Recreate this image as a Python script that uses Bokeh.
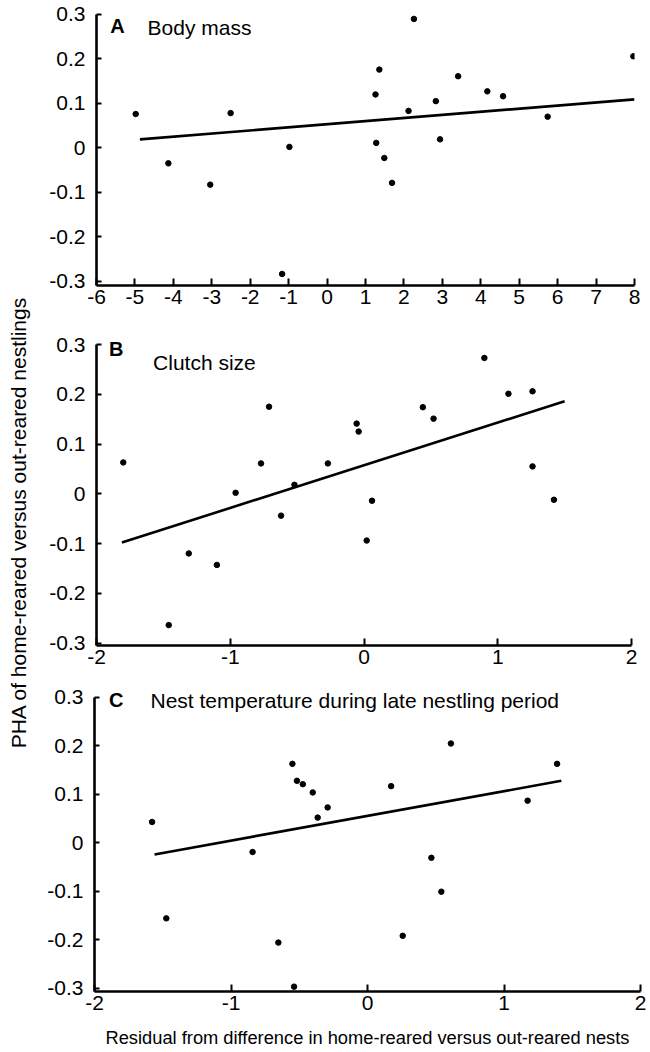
import math
from bokeh.plotting import figure
from bokeh.models import Range1d, FixedTicker, Label
from bokeh.layouts import row, column
from bokeh.embed import file_html
from bokeh.resources import INLINE

FONT = "Liberation Sans"

# ---------------- data ----------------
# Panel A: Body mass
xa = [-4.98, -4.13, -2.51, -0.98, 1.26, 1.36, 1.28, 1.49, 2.26, 2.12,
      2.83, 2.94, 3.41, 4.17, 4.58, 5.74, 7.97, -3.04, 1.69, -1.17]
ya = [0.076, -0.035, 0.078, 0.002, 0.120, 0.176, 0.011, -0.023, 0.290, 0.083,
      0.105, 0.019, 0.161, 0.127, 0.116, 0.070, 0.206, -0.083, -0.079, -0.284]
fit_a_x = [-4.87, 8.0]
fit_a_y = [0.019, 0.109]

# Panel B: Clutch size
xb = [-1.80, -0.96, -0.77, -0.71, -0.52, -0.27, -0.055, -0.04, 0.06, 0.44,
      0.52, 0.90, 1.08, 1.26, 1.26, 1.42, -0.62, 0.02, -1.31, -1.10, -1.46]
yb = [0.063, 0.002, 0.061, 0.175, 0.018, 0.061, 0.141, 0.125, -0.014, 0.174,
      0.151, 0.273, 0.201, 0.206, 0.055, -0.012, -0.044, -0.094, -0.120, -0.143, -0.264]
fit_b_x = [-1.81, 1.50]
fit_b_y = [-0.098, 0.186]

# Panel C: Nest temperature during late nestling period
xc = [-1.578, -0.550, -0.517, -0.474, -0.401, -0.365, -0.292, 0.173, 0.611, 1.173,
      1.389, -0.842, 0.468, 0.541, -1.474, -0.653, 0.258, -0.538]
yc = [0.043, 0.163, 0.128, 0.121, 0.104, 0.052, 0.073, 0.117, 0.205, 0.087,
      0.163, -0.019, -0.031, -0.101, -0.156, -0.206, -0.192, -0.297]
fit_c_x = [-1.56, 1.42]
fit_c_y = [-0.024, 0.128]

y_ticks = [-0.3, -0.2, -0.1, 0, 0.1, 0.2, 0.3]
y_tick_labels = ["-0.3", "-0.2", "-0.1", "0", "0.1", "0.2", "0.3"]
xa_ticks = [-6, -5, -4, -3, -2, -1, 0, 1, 2, 3, 4, 5, 6, 7, 8]
xa_tick_labels = ["-6", "-5", "-4", "-3", "-2", "-1", "0", "1", "2", "3", "4", "5", "6", "7", "8"]
xbc_ticks = [-2, -1, 0, 1, 2]
xbc_tick_labels = ["-2", "-1", "0", "1", "2"]

panel_letters = ["A", "B", "C"]
panel_titles = ["Body mass", "Clutch size", "Nest temperature during late nestling period"]
y_title = "PHA of home-reared versus out-reared nestlings"
x_title = "Residual from difference in home-reared versus out-reared nests"


def make_panel(xs, ys, fx, fy, xr, yr, ytop, xticks, xlabels, w, h, mbl, mbr, mbb):
    p = figure(width=w, height=h, x_range=Range1d(*xr), y_range=Range1d(yr[0], ytop),
               output_backend="svg", toolbar_location=None,
               min_border_left=mbl, min_border_right=mbr,
               min_border_top=0, min_border_bottom=mbb)
    p.outline_line_color = None
    p.grid.visible = False
    p.background_fill_color = "white"
    p.border_fill_color = "white"
    for ax in (p.xaxis[0], p.yaxis[0]):
        ax.axis_line_width = 2.6
        ax.axis_line_color = "black"
        ax.major_tick_line_width = 2
        ax.major_tick_line_color = "black"
        ax.major_tick_out = 0
        ax.minor_tick_line_color = None
        ax.major_label_text_font = FONT
        ax.major_label_text_font_size = "21px"
        ax.major_label_text_color = "black"
    p.xaxis.ticker = FixedTicker(ticks=xticks)
    p.xaxis.major_label_overrides = dict(zip(xticks, xlabels))
    p.xaxis.major_tick_in = 7
    p.xaxis.major_label_standoff = 4
    p.yaxis.ticker = FixedTicker(ticks=y_ticks)
    p.yaxis.major_label_overrides = dict(zip(y_ticks, y_tick_labels))
    p.yaxis.bounds = (yr[0], yr[1])
    p.yaxis.major_tick_in = 5
    p.yaxis.major_label_standoff = 11
    p.line(fx, fy, line_color="black", line_width=2.6)
    p.scatter(xs, ys, marker="circle", size=5.5, fill_color="black", line_color="black")
    return p


pa = make_panel(xa, ya, fit_a_x, fit_a_y, (-6, 8), (-0.31, 0.3), 0.3315,
                xa_ticks, xa_tick_labels, 612, 318, 58, 16, 33)
pb = make_panel(xb, yb, fit_b_x, fit_b_y, (-2, 2), (-0.305, 0.3), 0.3523,
                xbc_ticks, xbc_tick_labels, 612, 354, 58, 19, 27)
pc = make_panel(xc, yc, fit_c_x, fit_c_y, (-2, 2), (-0.307, 0.3), 0.3516,
                xbc_ticks, xbc_tick_labels, 612, 378, 56, 10, 59)

pc.xaxis.axis_label = x_title
pc.xaxis.axis_label_text_font = FONT
pc.xaxis.axis_label_text_font_size = "18.3px"
pc.xaxis.axis_label_text_font_style = "normal"
pc.xaxis.axis_label_text_color = "black"
pc.xaxis.axis_label_standoff = 14

letter_pos = [(pa, -5.64, 0.275), (pb, -1.906, 0.291), (pc, -1.893, 0.294)]
title_pos = [(-4.67, 0.271), (-1.577, 0.264), (-1.59, 0.294)]
for (p, lx, ly), (tx, ty), letter, title in zip(letter_pos, title_pos, panel_letters, panel_titles):
    p.add_layout(Label(x=lx, y=ly, text=letter, text_font=FONT, text_font_size="20px",
                       text_font_style="bold", text_baseline="middle", text_align="left",
                       text_color="black"))
    p.add_layout(Label(x=tx, y=ty, text=title, text_font=FONT, text_font_size="21px",
                       text_baseline="middle", text_align="left", text_color="black"))

# shared y-axis title
pl = figure(width=38, height=1050, x_range=Range1d(0, 38), y_range=Range1d(0, 1050),
            output_backend="svg", toolbar_location=None, x_axis_type=None, y_axis_type=None,
            min_border_left=0, min_border_right=0, min_border_top=0, min_border_bottom=0)
pl.outline_line_color = None
pl.grid.visible = False
pl.add_layout(Label(x=18, y=528, text=y_title, angle=math.pi / 2, text_font=FONT,
                    text_font_size="21px", text_align="center", text_baseline="middle",
                    text_color="black"))

layout = row(pl, column(row(pa), row(pb), row(pc)))
open("out.html", "w").write(file_html(layout, INLINE))
